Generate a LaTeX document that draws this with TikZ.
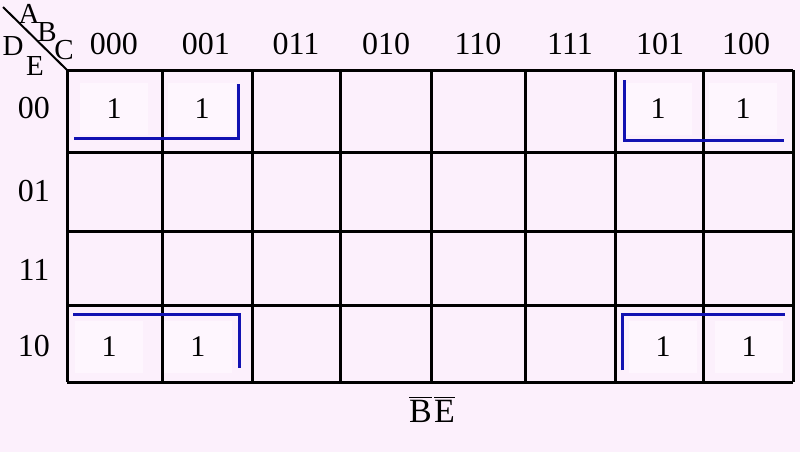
\documentclass[tikz,border=0pt]{standalone}
\usepackage{fontspec}
\setmainfont{Liberation Serif}
\usepackage{tikz}
\usetikzlibrary{positioning,calc}
\definecolor{kmapbg}{RGB}{252,240,252}
\definecolor{onebg}{RGB}{254,246,254}
\definecolor{loopblue}{RGB}{18,18,178}

\begin{document}
\begin{tikzpicture}[x=0.5pt,y=-0.5pt,
        grid/.style={line width=1.5pt},
        loop/.style={draw=loopblue,line width=1.5pt},
        hdr/.style={font=\fontsize{16}{19}\selectfont,inner sep=0pt},
        var/.style={font=\fontsize{14.5}{17}\selectfont,inner sep=0pt},
        one/.style={font=\fontsize{15}{18}\selectfont,fill=onebg,minimum width=34pt,minimum height=26pt}]

        % background
        \fill[kmapbg] (0,0) rectangle (800,452);

        % ones
        \node[one] (o1) at (114,109) {1};
        \node[one] (o2) at (202,109) {1};
        \node[one] (o3) at (658,109) {1};
        \node[one] (o4) at (743,109) {1};
        \node[one] (o5) at (109,347) {1};
        \node[one] (o6) at (198,347) {1};
        \node[one] (o7) at (663,347) {1};
        \node[one] (o8) at (749,347) {1};

        % grid
        \foreach \x in {67,162,252,340,431,525,615,703,793}
            \draw[grid] (\x,70) -- (\x,382);
        \foreach \y in {70,152,231,305,382}
            \draw[grid] (67,\y) -- (793,\y);

        % corner
        \coordinate (diag) at (3,7);
        \coordinate (corner) at (67,70);
        \draw[line width=1pt] (diag) -- (corner);
        \node[var] (A) at (29,14) {A};
        \node[var] (B) at (47,32) {B};
        \node[var] (C) at (64,50) {C};
        \node[var] (D) at (13,46) {D};
        \node[var] (E) at (35,66) {E};

        % column and row labels
        \foreach \x/\lab [count=\i] in {114/000,206/001,296/011,386/010,478/110,570/111,660/101,746/100}
            \node[hdr] (col\i) at (\x,44) {\lab};
        \foreach \y/\lab [count=\i] in {108/00,191/01,270/11,346/10}
            \node[hdr] (row\i) at (34,\y) {\lab};

        % loops
        \coordinate (a) at (74,138);
        \coordinate (b) at (238,138);
        \coordinate (c) at (238,84);
        \draw[loop] (a) -- (b) -- (c);

        \coordinate (d) at (624,80);
        \coordinate (e) at (624,140);
        \coordinate (f) at (784,140);
        \draw[loop] (d) -- (e) -- (f);

        \coordinate (g) at (73,314);
        \coordinate (h) at (239,314);
        \coordinate (i) at (239,368);
        \draw[loop] (g) -- (h) -- (i);

        \coordinate (j) at (622,370);
        \coordinate (k) at (622,314);
        \coordinate (l) at (785,314);
        \draw[loop] (j) -- (k) -- (l);

        % result
        \node[hdr,font=\fontsize{17}{20}\selectfont] (res) at (432,409) {$\overline{\hbox{B}}\kern1.2pt\overline{\hbox{E}}$};

\end{tikzpicture}
\end{document}
